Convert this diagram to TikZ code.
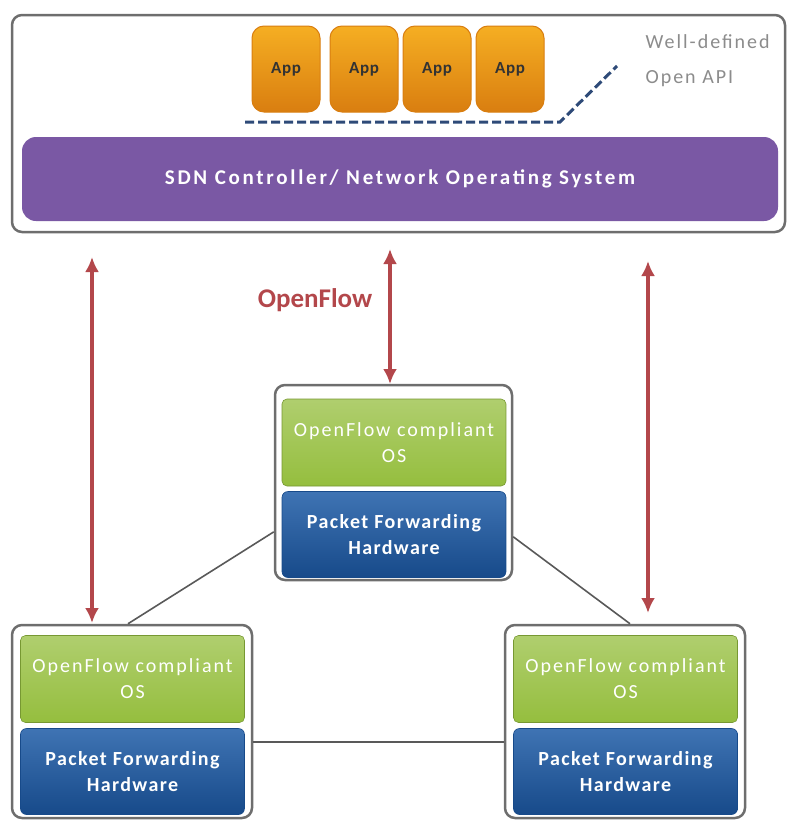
\documentclass[tikz,border=0pt]{standalone}
\usepackage{fontspec}
\setmainfont{Carlito}
\usetikzlibrary{arrows.meta,calc}
\definecolor{appor}{HTML}{F39A2B}
\definecolor{appdk}{HTML}{D97E10}
\definecolor{ctrlpur}{HTML}{7A58A4}
\definecolor{osgreen}{HTML}{95BE3E}
\definecolor{hwblue}{HTML}{1D5BA6}
\definecolor{hwdk}{HTML}{174A8A}
\definecolor{arrred}{HTML}{B3474B}
\definecolor{boxgray}{HTML}{6E6E6E}
\definecolor{apiblue}{HTML}{2E4A78}
\tikzset{
  outerbox/.style={draw=boxgray,line width=2.5pt,rounded corners=10pt,fill=white,inner sep=0pt},
  appbox/.style={draw=appdk,line width=1pt,rounded corners=12pt,top color=appor!80!yellow,bottom color=appdk,minimum width=68pt,minimum height=86pt,inner sep=0pt,font=\fontsize{17}{20}\selectfont\bfseries\addfontfeatures{LetterSpace=4},text=black!80},
  ctrlbar/.style={fill=ctrlpur,rounded corners=14pt,minimum width=756pt,minimum height=84pt,inner sep=0pt,text=white,font=\fontsize{21}{24}\selectfont\bfseries\addfontfeatures{LetterSpace=13}},
  osbox/.style={draw=osgreen!80!black,line width=0.6pt,rounded corners=5pt,top color=osgreen!75!white,bottom color=osgreen,minimum width=224pt,minimum height=87pt,inner sep=0pt,text=white,align=center,font=\fontsize{20}{26}\selectfont\addfontfeatures{LetterSpace=10}},
  hwbox/.style={draw=hwdk,line width=0.6pt,rounded corners=6pt,top color=hwblue!85!white,bottom color=hwdk,minimum width=224pt,minimum height=86pt,inner sep=0pt,text=white,align=center,font=\fontsize{20}{26}\selectfont\bfseries\addfontfeatures{LetterSpace=7}},
  ofarrow/.style={draw=arrred,line width=3.5pt,{Latex[length=15pt,width=14pt]}-{Latex[length=15pt,width=14pt]}},
  link/.style={draw=black!65,line width=1.6pt}
}
\begin{document}
\begin{tikzpicture}[x=1pt,y=-1pt]
\useasboundingbox (0,0) rectangle (787,822);
% top controller area
\node[outerbox,minimum width=773pt,minimum height=217pt] (top) at (398.5,123.5) {};
\node[ctrlbar] (ctrl) at (400,179) {SDN Controller/ Network Operating System};
\node[appbox] (app1) at (286,69) {App};
\node[appbox] (app2) at (364,69) {App};
\node[appbox] (app3) at (437,69) {App};
\node[appbox] (app4) at (510,69) {App};
\coordinate (api1) at (245,122);
\coordinate (api2) at (560,122);
\coordinate (api3) at (617,66);
\draw[apiblue,line width=3pt,dash pattern=on 9pt off 4pt] (api1) -- (api2) -- (api3);
\node[text=black!45,align=left,font=\fontsize{20}{35}\selectfont\addfontfeatures{LetterSpace=10},anchor=west] (api) at (642,61) {Well-defined\\Open API};
% switches
\node[outerbox,minimum width=237pt,minimum height=195pt] (sw2) at (393.5,482.5) {};
\node[osbox] (os2) at (394,442.5) {OpenFlow compliant\\OS};
\node[hwbox] (hw2) at (394,534.5) {Packet Forwarding\\Hardware};
\node[outerbox,minimum width=240pt,minimum height=193pt] (sw1) at (132,721.5) {};
\node[osbox] (os1) at (132.5,679) {OpenFlow compliant\\OS};
\node[hwbox] (hw1) at (132.5,771.5) {Packet Forwarding\\Hardware};
\node[outerbox,minimum width=240pt,minimum height=193pt] (sw3) at (625,721.5) {};
\node[osbox] (os3) at (625.5,679) {OpenFlow compliant\\OS};
\node[hwbox] (hw3) at (625.5,771.5) {Packet Forwarding\\Hardware};
% links between switches
\draw[link] ($(sw2.west)!0.5!(sw2.south west)$) -- ($(sw1.north)+(-4,0)$);
\draw[link] ($(sw2.east)!0.55!(sw2.south east)$) -- ($(sw3.north)+(5,0)$);
\draw[link] ($(sw1.east)!0.21!(sw1.south east)$) -- ($(sw3.west)!0.21!(sw3.south west)$);
% OpenFlow arrows
\coordinate (a1s) at (92,257);
\coordinate (a1e) at (92,623);
\coordinate (a2s) at (390,249);
\coordinate (a2e) at (390,384);
\coordinate (a3s) at (648,261);
\coordinate (a3e) at (648,613);
\draw[ofarrow] (a1s) -- (a1e);
\draw[ofarrow] (a2s) -- (a2e);
\draw[ofarrow] (a3s) -- (a3e);
\node[text=arrred,font=\fontsize{27}{30}\selectfont\bfseries] (of) at (315,300) {OpenFlow};
\end{tikzpicture}
\end{document}
